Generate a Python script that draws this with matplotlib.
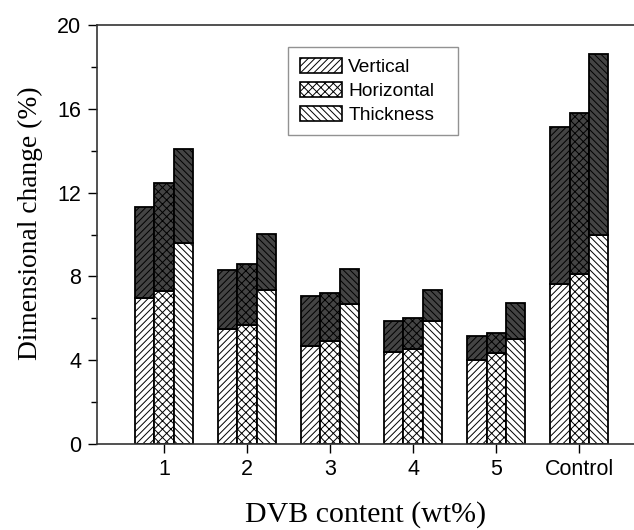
import numpy as np, matplotlib
matplotlib.use("Agg")
import matplotlib.pyplot as plt
from matplotlib.patches import Patch

groups = ["1", "2", "3", "4", "5", "Control"]
series = ["Vertical", "Horizontal", "Thickness"]
# lower (light) part and total height of each stacked bar
vertical_low   = [6.98, 5.47, 4.69, 4.38, 4.00, 7.62]
vertical_tot   = [11.33, 8.31, 7.08, 5.86, 5.16, 15.13]
horizontal_low = [7.32, 5.66, 4.92, 4.53, 4.33, 8.10]
horizontal_tot = [12.47, 8.58, 7.19, 6.00, 5.31, 15.78]
thickness_low  = [9.61, 7.35, 6.67, 5.89, 5.00, 9.98]
thickness_tot  = [14.07, 10.01, 8.35, 7.34, 6.73, 18.62]

plt.rcParams["hatch.linewidth"] = 0.7
plt.rcParams["font.family"] = ["Liberation Sans", "DejaVu Sans"]

fig = plt.figure(figsize=(6.34, 5.30), dpi=100)
ax = fig.add_axes([0.153, 0.162, 0.847, 0.791])

x = np.arange(1, len(groups) + 1)
w = 0.232
hatches = ["/////", "xxxx", "\\\\\\\\\\"]
lows = [vertical_low, horizontal_low, thickness_low]
tots = [vertical_tot, horizontal_tot, thickness_tot]
for i in range(3):
    xi = x + (i - 1) * w
    low = np.array(lows[i]); tot = np.array(tots[i])
    ax.bar(xi, low, w, color="white", edgecolor="black", hatch=hatches[i], linewidth=1.3)
    ax.bar(xi, tot - low, w, bottom=low, color="#444444", edgecolor="black", hatch=hatches[i], linewidth=1.3)

handles = [Patch(facecolor="white", edgecolor="black", hatch=h, linewidth=1.2) for h in hatches]
leg = ax.legend(handles, series, loc="upper left", bbox_to_anchor=(0.3557, 0.74, 0.3166, 0.2075),
                mode="expand", borderaxespad=0, fancybox=False, edgecolor="#777777", fontsize=13.8,
                handlelength=2.2, handleheight=0.8, labelspacing=0.3, borderpad=0.6, handletextpad=0.35)
leg.get_frame().set_linewidth(1.0)

ax.set_xlim(0.194, 6.66)
ax.set_ylim(0, 20)
ax.set_xticks(x)
ax.set_xticklabels(groups)
ax.set_yticks([0, 4, 8, 12, 16, 20])
ax.set_yticks([2, 6, 10, 14, 18], minor=True)
ax.tick_params(axis="both", which="major", direction="out", length=6.5, width=1, labelsize=15.5)
ax.tick_params(axis="x", which="major", pad=4.5)
ax.tick_params(axis="y", which="major", pad=5)
ax.tick_params(axis="y", which="minor", direction="out", length=4, width=1)
ax.tick_params(axis="x", which="minor", bottom=False)
ax.spines["right"].set_visible(False)
for s in ["left", "bottom", "top"]:
    ax.spines[s].set_linewidth(1.2)
    ax.spines[s].set_color("#333333")

ax.set_ylabel("Dimensional change (%)", family=["Liberation Serif"], fontsize=19.8)
ax.yaxis.set_label_coords(-0.1, 0.528)
ax.set_xlabel("DVB content (wt%)", family=["Liberation Serif"], fontsize=21.5)
ax.xaxis.set_label_coords(0.5, -0.135)

fig.savefig("out.png", dpi=100)
